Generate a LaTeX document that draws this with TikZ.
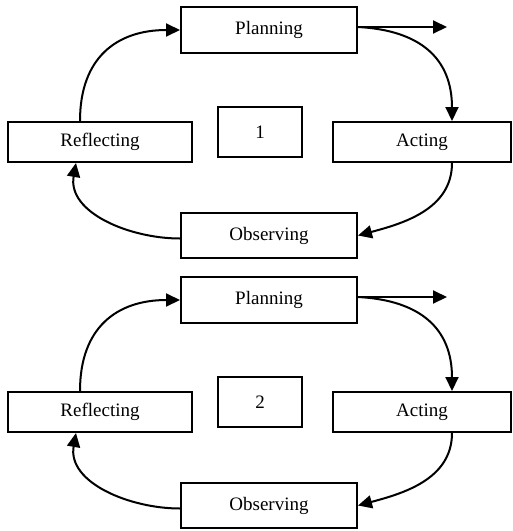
\documentclass[tikz,border=0pt]{standalone}
\usepackage{fontspec}
\setmainfont{Liberation Serif}
\usetikzlibrary{arrows.meta}
\begin{document}
\begin{tikzpicture}[x=1pt,y=-1pt,
  stagebox/.style={draw,line width=2pt,inner sep=0pt,font=\fontsize{19}{21}\selectfont,minimum height=40pt},
  flow/.style={line width=2pt,-{Triangle[length=14pt,width=13pt]}}]
\useasboundingbox (0,0) rectangle (513,531);
\foreach \k/\off in {1/0,2/270}{
  \begin{scope}[yshift=-\off pt]
    \node[stagebox,minimum width=176pt,minimum height=46pt] (P\k) at (269,30) {Planning};
    \node[stagebox,minimum width=184pt] (R\k) at (100,142) {Reflecting};
    \node[stagebox,minimum width=84pt,minimum height=50pt] (N\k) at (260,132) {\k};
    \node[stagebox,minimum width=178pt] (A\k) at (422,142) {Acting};
    \node[stagebox,minimum width=176pt,minimum height=45pt] (O\k) at (269,235.5) {Observing};
    \coordinate (E\k) at (447,27);
    \draw[flow] ([yshift=3pt]P\k.east) -- (E\k);
    \draw[flow] ([xshift=-20pt]R\k.north) to[out=90,in=180,looseness=1.2] ([yshift=0pt]P\k.west);
    \draw[flow] ([yshift=3pt]P\k.east) to[out=-3,in=90,looseness=1.2] ([xshift=30pt]A\k.north);
    \draw[flow] ([xshift=30pt]A\k.south) to[out=-90,in=15,looseness=1] (O\k.east);
    \draw[flow] ([yshift=-3pt]O\k.west) to[out=180,in=-100,looseness=1] ([xshift=-24pt]R\k.south);
  \end{scope}
}
\end{tikzpicture}
\end{document}
